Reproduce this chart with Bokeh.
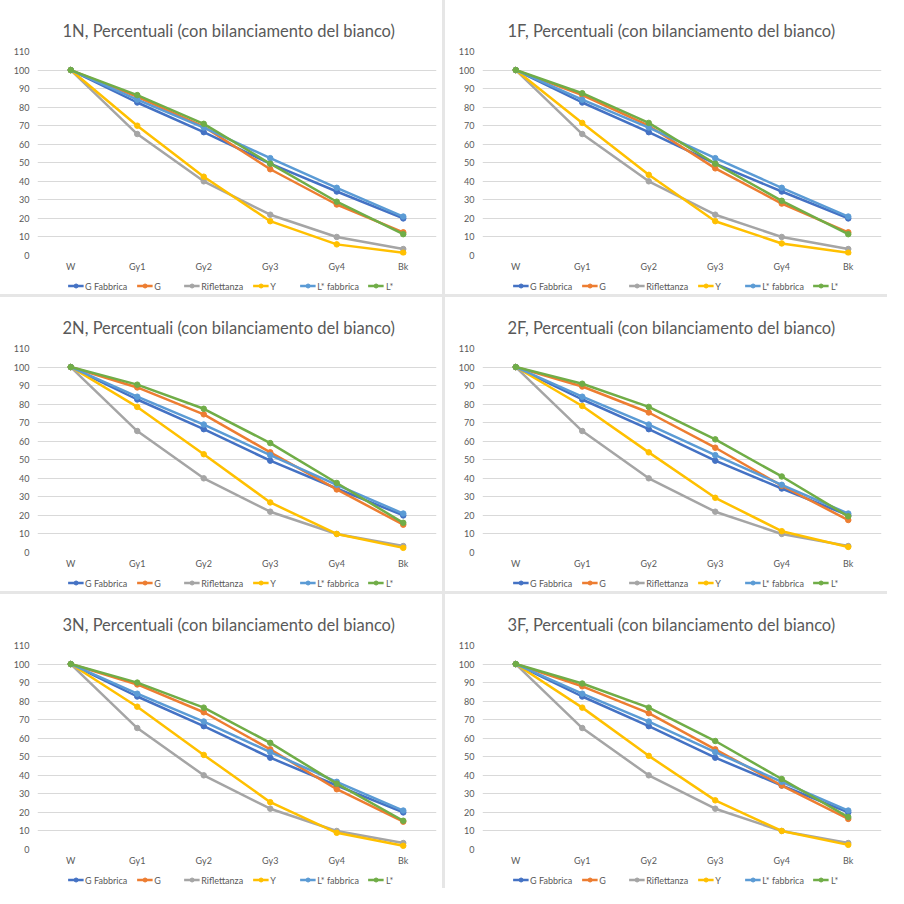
from bokeh.plotting import figure
from bokeh.models import Legend, LegendItem, FactorRange, Range1d, FixedTicker, ColumnDataSource
from bokeh.layouts import row, column
from bokeh.embed import file_html
from bokeh.resources import INLINE

categories = ["W", "Gy1", "Gy2", "Gy3", "Gy4", "Bk"]
series_names = ["G Fabbrica", "G", "Riflettanza", "Y", "L* fabbrica", "L*"]
colors = ["#4472C4", "#ED7D31", "#A5A5A5", "#FFC000", "#5B9BD5", "#70AD47"]
y_ticks = [0, 10, 20, 30, 40, 50, 60, 70, 80, 90, 100, 110]

g_fabbrica = [100, 82.5, 66.5, 49.5, 34.5, 20]
l_fabbrica = [100, 84, 69, 52.5, 36.5, 21]
riflettanza = [100, 65.5, 40, 22, 10, 3.5]

panel_titles = ["1N", "1F", "2N", "2F", "3N", "3F"]
g_1n = [100, 85.5, 69.5, 46.5, 27.5, 12.5]
y_1n = [100, 70, 42.5, 18.5, 6, 1.5]
l_1n = [100, 86.5, 71, 49.5, 29, 11.5]
g_1f = [100, 86.5, 70, 47, 28, 12.5]
y_1f = [100, 71.5, 43.5, 18.5, 6.5, 1.5]
l_1f = [100, 87.5, 71.5, 49.5, 29.5, 11.5]
g_2n = [100, 89, 74.5, 54, 34, 15]
y_2n = [100, 78.5, 53, 27, 10, 2.5]
l_2n = [100, 90.5, 77.5, 59, 37.5, 16]
g_2f = [100, 89.5, 75.5, 56.5, 36, 17.5]
y_2f = [100, 79, 54, 29.5, 11.5, 3]
l_2f = [100, 91, 78.5, 61, 41, 19.5]
g_3n = [100, 89, 74, 54, 32.5, 15]
y_3n = [100, 77, 51, 25.5, 9, 2]
l_3n = [100, 90, 76.5, 57.5, 35.5, 15.5]
g_3f = [100, 88, 73.5, 54, 34.5, 16.5]
y_3f = [100, 76.5, 50.5, 26.5, 10, 2.5]
l_3f = [100, 89.5, 76.5, 58.5, 38, 17.5]

panel_data = {
    "1N": (g_1n, y_1n, l_1n),
    "1F": (g_1f, y_1f, l_1f),
    "2N": (g_2n, y_2n, l_2n),
    "2F": (g_2f, y_2f, l_2f),
    "3N": (g_3n, y_3n, l_3n),
    "3F": (g_3f, y_3f, l_3f),
}

FONT = "Lato"
TXT = "#595959"
W = 442
CHART_H = 277
LEG_H = 17
LW = 2.5
MS = 5.5


def make_chart(name):
    g, y, l = panel_data[name]
    series = [g_fabbrica, g, riflettanza, y, l_fabbrica, l]
    p = figure(width=W, height=CHART_H, x_range=FactorRange(*categories),
               y_range=Range1d(0, 110), output_backend="svg",
               toolbar_location=None, min_border_left=37, min_border_right=6,
               min_border_top=51, min_border_bottom=22)
    p.title.text = f"{name}, Percentuali (con bilanciamento del bianco)"
    p.title.align = "left"
    p.title.text_font = FONT
    p.title.text_font_size = "16.5px"
    p.title.text_font_style = "normal"
    p.title.text_color = TXT
    p.title.standoff = 22
    p.title.offset = 25
    p.outline_line_color = None
    p.xgrid.grid_line_color = None
    p.ygrid.grid_line_color = "#D9D9D9"
    p.yaxis.ticker = FixedTicker(ticks=y_ticks)
    for ax in (p.xaxis[0], p.yaxis[0]):
        ax.axis_line_color = None
        ax.major_tick_line_color = None
        ax.minor_tick_line_color = None
        ax.major_tick_out = 0
        ax.major_tick_in = 0
        ax.minor_tick_out = 0
        ax.minor_tick_in = 0
        ax.major_label_text_font = FONT
        ax.major_label_text_font_size = "9px"
        ax.major_label_text_color = TXT
    p.yaxis.major_label_standoff = 8
    p.xaxis.major_label_standoff = 5
    for vals, c in zip(series, colors):
        p.line(categories, vals, line_color=c, line_width=LW)
        p.scatter(categories, vals, size=MS, fill_color=c, line_color=c)
    return p


def make_legend_fig():
    lf = figure(width=W, height=LEG_H, x_range=Range1d(0, 1), y_range=Range1d(0, 1),
                output_backend="svg", toolbar_location=None,
                min_border_left=0, min_border_right=0, min_border_top=0, min_border_bottom=0)
    lf.axis.visible = False
    lf.grid.visible = False
    lf.outline_line_color = None
    items = []
    for nm, c in zip(series_names, colors):
        src = ColumnDataSource(data=dict(x=[-10, -9], y=[-10, -9]))
        ln = lf.line("x", "y", source=src, line_color=c, line_width=LW)
        sc = lf.scatter("x", "y", source=src, size=MS, fill_color=c, line_color=c)
        items.append(LegendItem(label=nm, renderers=[ln, sc]))
    leg = Legend(items=items, orientation="horizontal", location="center",
                 label_text_font=FONT, label_text_font_size="9px",
                 label_text_color=TXT, border_line_color=None,
                 background_fill_alpha=0, glyph_width=16, glyph_height=10,
                 label_standoff=2, spacing=9, padding=0, margin=0)
    lf.add_layout(leg, "center")
    return lf


def make_panel(name):
    return column(make_chart(name), make_legend_fig(), spacing=0,
                  styles={"background-color": "white"})


panels = [make_panel(n) for n in panel_titles]
layout = column(
    row(panels[0], panels[1], spacing=3),
    row(panels[2], panels[3], spacing=3),
    row(panels[4], panels[5], spacing=3),
    spacing=3,
    styles={"background-color": "#E6E6E6"},
)

open("out.html", "w").write(file_html(layout, INLINE))
